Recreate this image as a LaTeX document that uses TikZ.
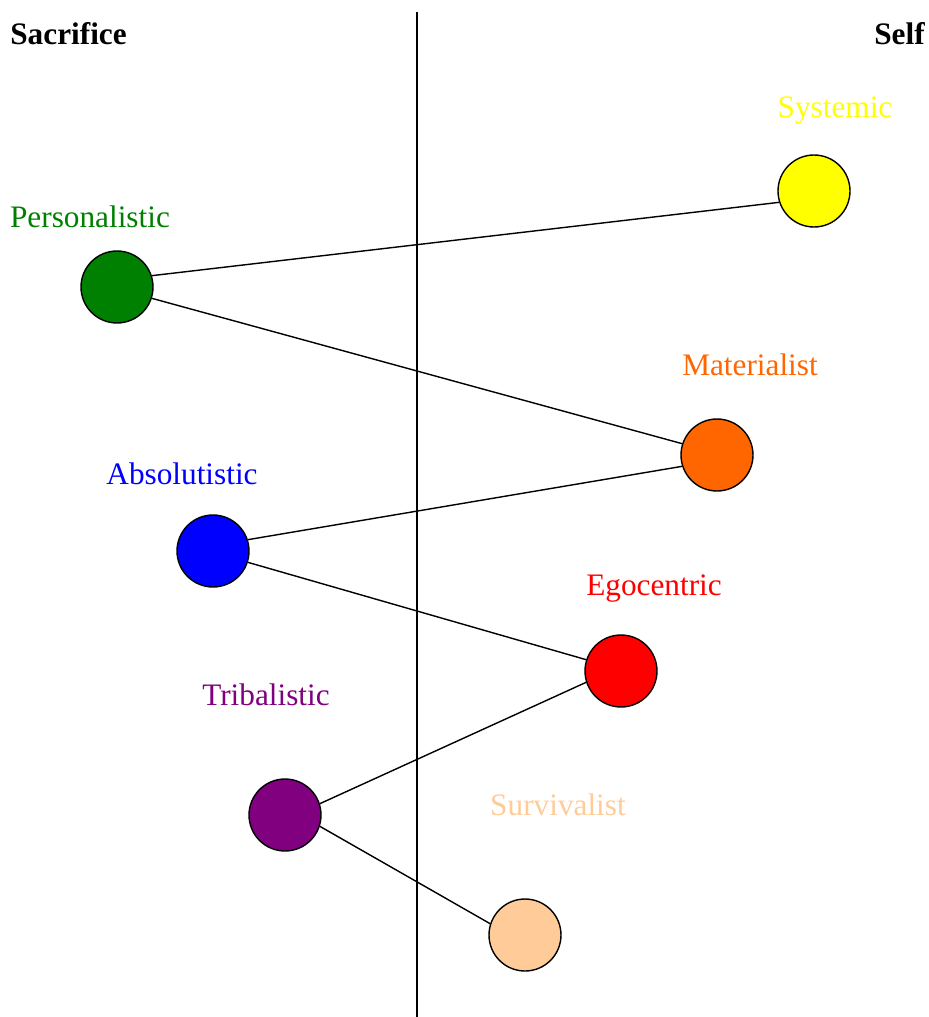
\documentclass[tikz,border=0pt]{standalone}
\usepackage{fontspec}
\setmainfont{Liberation Serif}
\definecolor{peach}{HTML}{FFCC99}\definecolor{orng}{HTML}{FF6600}\definecolor{yllw}{HTML}{FFFF00}
\definecolor{grn}{HTML}{008000}\definecolor{purp}{HTML}{800080}\definecolor{blu}{HTML}{0000FF}\definecolor{rd}{HTML}{FF0000}
\tikzset{stage/.style={circle,draw,thick,minimum size=1.44cm,inner sep=0pt},
lbl/.style={anchor=base,inner sep=0pt,font=\fontsize{17.8}{21}\selectfont}}
\begin{document}
\begin{tikzpicture}[x=0.02cm,y=-0.02cm]
\useasboundingbox (0,0) rectangle (929,1017);
\coordinate (top) at (417,12);\coordinate (bot) at (417,1017);\draw[thick] (top)--(bot);
\node[lbl,anchor=base west,font=\fontsize{17.8}{21}\selectfont\bfseries] (sac) at (10,45) {Sacrifice};
\node[lbl,anchor=base east,font=\fontsize{17.8}{21}\selectfont\bfseries] (self) at (925,45) {Self};
\node[stage,fill=yllw] (sys) at (814,191) {};\node[lbl,text=yllw] (sysl) at (835,117) {Systemic};
\node[stage,fill=grn] (per) at (117,287) {};\node[lbl,text=grn] (perl) at (90,227) {Personalistic};
\node[stage,fill=orng] (mat) at (717,455) {};\node[lbl,text=orng] (matl) at (750,375) {Materialist};
\node[stage,fill=blu] (abs) at (213,551) {};\node[lbl,text=blu] (absl) at (182,484) {Absolutistic};
\node[stage,fill=rd] (ego) at (621,671) {};\node[lbl,text=rd] (egol) at (654,595) {Egocentric};
\node[stage,fill=purp] (tri) at (285,815) {};\node[lbl,text=purp] (tril) at (266,705) {Tribalistic};
\node[stage,fill=peach] (sur) at (525,935) {};\node[lbl,text=peach] (surl) at (558,815) {Survivalist};
\draw[thick] (per.18)--(sys.198) (per.-18)--(mat.162) (mat.198)--(abs.18);
\draw[thick] (abs.-18)--(ego.162) (ego.198)--(tri.18) (tri.-18)--(sur.162);
\end{tikzpicture}
\end{document}
